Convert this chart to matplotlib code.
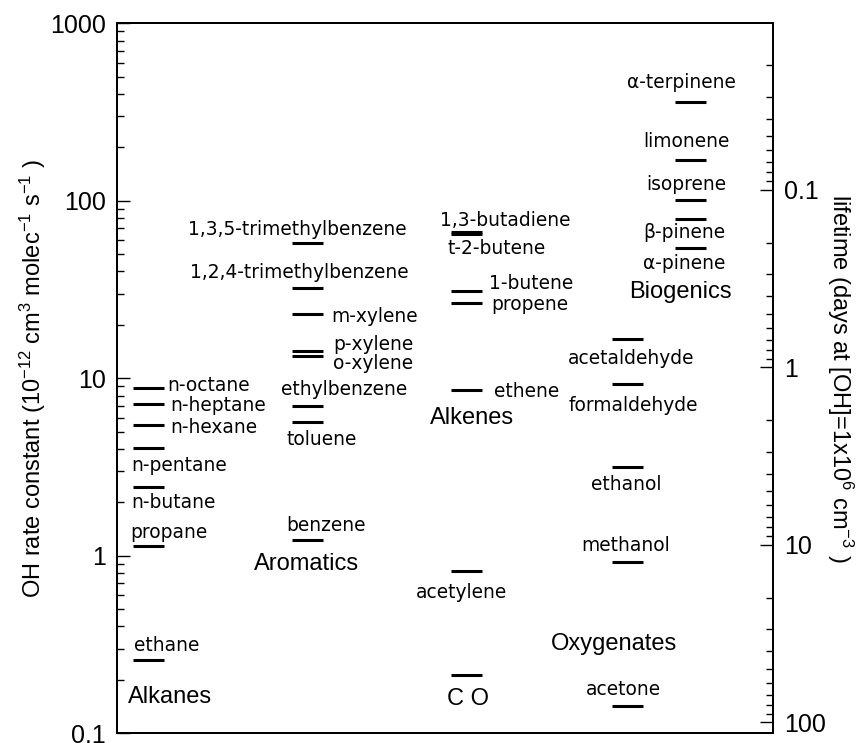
import matplotlib
matplotlib.use("Agg")
import matplotlib.pyplot as plt
from matplotlib.ticker import LogLocator, FuncFormatter, NullFormatter

# OH rate constants (1e-12 cm3 molec-1 s-1)
alkane_names = ["n-octane", "n-heptane", "n-hexane", "n-pentane",
                "n-butane", "propane", "ethane"]
alkane_k = [8.85, 7.14, 5.46, 4.06, 2.45, 1.14, 0.259]

aromatic_names = ["1,3,5-trimethylbenzene", "1,2,4-trimethylbenzene",
                  "m-xylene", "p-xylene", "o-xylene", "ethylbenzene",
                  "toluene", "benzene"]
aromatic_k = [57.6, 32.4, 23.0, 14.3, 13.4, 6.98, 5.69, 1.23]

alkene_names = ["1,3-butadiene", "t-2-butene", "1-butene", "propene",
                "ethene", "acetylene"]
alkene_k = [67.1, 65.4, 31.2, 26.5, 8.59, 0.82]

co_names = ["C O"]
co_k = [0.213]

oxygenate_names = ["acetaldehyde", "formaldehyde", "ethanol",
                   "methanol", "acetone"]
oxygenate_k = [16.6, 9.29, 3.15, 0.92, 0.143]

biogenic_names = ["α-terpinene", "limonene", "isoprene",
                  "β-pinene", "α-pinene"]
biogenic_k = [361, 169, 101, 79, 54]

group_names = ["Alkanes", "Aromatics", "Alkenes", "Oxygenates", "Biogenics"]

# lifetime (days) at [OH] = 1e6 cm-3
OH_CONC = 1e6
def lifetime_days(k):
    return 1.0 / (k * 1e-12 * OH_CONC * 86400.0)

# ---- layout -------------------------------------------------------------
W, H, DPI = 8.62, 7.43, 100
plt.rcParams["mathtext.default"] = "regular"
fig = plt.figure(figsize=(W, H), dpi=DPI)
ax = fig.add_axes([117 / 862, 9.7 / 743, 656 / 862, 710 / 743])

ax.set_yscale("log")
ax.set_ylim(0.1, 1000)
ax.set_xlim(0, 656)

col_x = {"alkane": 31.7, "aromatic": 190.5, "alkene": 349.8,
         "co": 349.8, "oxygenate": 510.7, "biogenic": 573.2}
half_w = 15.5

# label placement: (horizontal alignment, dx px, baseline offset below bar px)
place = {
    "n-octane": ("left", 19, 3), "n-heptane": ("left", 21.3, 6.4),
    "n-hexane": ("left", 21.3, 8.3), "n-pentane": ("left", -17, 23.3),
    "n-butane": ("left", -17, 21), "propane": ("left", -18.7, -7.4),
    "ethane": ("left", -14.4, -9.3),
    "1,3,5-trimethylbenzene": ("center", -10, -8.3),
    "1,2,4-trimethylbenzene": ("center", -8.3, -9.4),
    "m-xylene": ("left", 24.2, 7.7), "p-xylene": ("left", 25.8, -0.7),
    "o-xylene": ("left", 25.8, 13.3), "ethylbenzene": ("center", 36.3, -11),
    "toluene": ("center", 13.7, 23.3), "benzene": ("center", 18.3, -9.3),
    "1,3-butadiene": ("center", 38.2, -6), "t-2-butene": ("center", 29.5, 20.8),
    "1-butene": ("left", 22.5, -1.7), "propene": ("left", 24, 6.7),
    "ethene": ("left", 27.5, 6.7), "acetylene": ("center", -4.8, 27.3),
    "C O": ("center", 1.2, 30),
    "acetaldehyde": ("center", 3, 24.3), "formaldehyde": ("center", 5.3, 26.7),
    "ethanol": ("center", -1.5, 22.7), "methanol": ("center", -2, -11.3),
    "acetone": ("center", -4.7, -11),
    "α-terpinene": ("center", -9, -13.4), "limonene": ("center", -4, -13),
    "isoprene": ("center", -4, -10), "β-pinene": ("center", -5.5, 19.3),
    "α-pinene": ("center", -6.4, 21),
}

LABEL_FONT = "DejaVu Sans"
MAIN_FONT = "Liberation Sans"

groups = [("alkane", alkane_names, alkane_k),
          ("aromatic", aromatic_names, aromatic_k),
          ("alkene", alkene_names, alkene_k),
          ("co", co_names, co_k),
          ("oxygenate", oxygenate_names, oxygenate_k),
          ("biogenic", biogenic_names, biogenic_k)]

for key, names, ks in groups:
    cx = col_x[key]
    ax.hlines(ks, cx - half_w, cx + half_w, colors="black", linewidth=2.2)
    for name, k in zip(names, ks):
        ha, dx, dy = place[name]
        big = key == "co"
        ax.annotate(name, (cx, k), xytext=(dx, -dy), textcoords="offset pixels",
                    ha=ha, va="baseline",
                    fontsize=17 if big else 13.4,
                    family=MAIN_FONT if big else LABEL_FONT)

# group titles (axes fraction)
group_pos = {"Alkanes": ("left", 0.0168, 0.0431),
             "Aromatics": ("center", 0.2892, 0.230),
             "Alkenes": ("left", 0.4764, 0.4356),
             "Oxygenates": ("center", 0.7572, 0.1173),
             "Biogenics": ("center", 0.8582, 0.6127)}
for g in group_names:
    ha, gx, gy = group_pos[g]
    ax.text(gx, gy, g, transform=ax.transAxes, ha=ha, va="baseline",
            fontsize=17, family=MAIN_FONT)

# ---- axes styling -----------------------------------------------------
fmt = FuncFormatter(lambda v, _: f"{v:g}")


def style_log_axis(a, side):
    a.set_xticks([])
    a.yaxis.set_major_locator(LogLocator(base=10, numticks=10))
    a.yaxis.set_minor_locator(LogLocator(base=10, subs=range(2, 10), numticks=10))
    a.yaxis.set_major_formatter(fmt)
    a.yaxis.set_minor_formatter(NullFormatter())
    a.tick_params(axis="y", which="both", direction="in",
                  left=(side == "left"), right=(side == "right"),
                  labelleft=(side == "left"), labelright=(side == "right"),
                  width=1.0, labelsize=18, pad=8)
    a.tick_params(axis="y", which="major", length=9.5)
    a.tick_params(axis="y", which="minor", length=5)
    for lab in a.get_yticklabels():
        lab.set_family(MAIN_FONT)
    for sp in a.spines.values():
        sp.set_linewidth(1.4)


style_log_axis(ax, "left")
ax.set_ylabel("OH rate constant (10$^{-12}$ cm$^{3}$ molec$^{-1}$ s$^{-1}$ )",
              fontsize=17, family=MAIN_FONT, rotation=90,
              ha="center", va="center", rotation_mode="anchor")
ax.yaxis.set_label_coords(-0.128, 0.5)

ax2 = ax.twinx()
ax2.set_yscale("log")
ax2.set_ylim(lifetime_days(0.1), lifetime_days(1000))
style_log_axis(ax2, "right")
ax2.set_ylabel("lifetime (days at [OH]=1x10$^{6}$ cm$^{-3}$ )",
               fontsize=17, family=MAIN_FONT, rotation=270,
               ha="center", va="center", rotation_mode="anchor")
ax2.yaxis.set_label_coords(1.102, 0.5)

fig.savefig("out.png", dpi=DPI)
